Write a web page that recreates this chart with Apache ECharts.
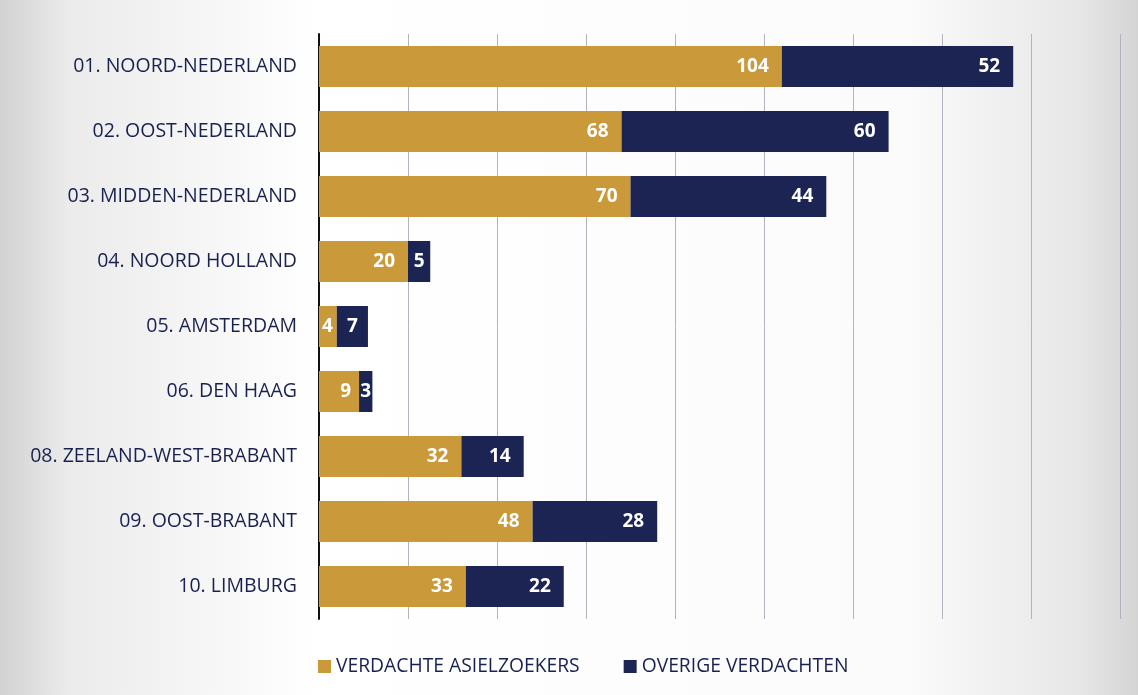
<!DOCTYPE html>
<html><head><meta charset="utf-8">
<script src="https://cdn.jsdelivr.net/npm/echarts@6/dist/echarts.min.js"></script>
<style>html,body{margin:0;padding:0;}#c{width:1138px;height:695px;}</style>
</head><body><div id="c"></div>
<script>
const categories = ["01. NOORD-NEDERLAND","02. OOST-NEDERLAND","03. MIDDEN-NEDERLAND","04. NOORD HOLLAND","05. AMSTERDAM","06. DEN HAAG","08. ZEELAND-WEST-BRABANT","09. OOST-BRABANT","10. LIMBURG"];
const asielzoekers = [104,68,70,20,4,9,32,48,33];
const overige = [52,60,44,5,7,3,14,28,22];
const seriesNames = ["VERDACHTE ASIELZOEKERS","OVERIGE VERDACHTEN"];

const chart = echarts.init(document.getElementById('c'));
const lbl = {show:true, position:'insideRight', color:'#fff', fontWeight:'bold', fontSize:19, fontFamily:'Open Sans', distance:13};
const goldData = asielzoekers.map(v => v < 8 ? {value:v, label:{position:'insideLeft', distance:3}} : (v < 12 ? {value:v, label:{distance:8}} : v));
const navyData = overige.map(v => v < 10 ? {value:v, label:{position:'inside'}} : v);
chart.setOption({
  backgroundColor: {type:'linear', x:0, y:0, x2:1, y2:0, colorStops:[
    {offset:0, color:'#d2d2d2'},{offset:0.06, color:'#ebebeb'},{offset:0.28, color:'#ffffff'},
    {offset:0.8, color:'#fbfbfb'},{offset:0.95, color:'#e6e6e6'},{offset:1, color:'#d4d4d4'}]},
  animation:false,
  grid:{left:319, right:18, top:34, bottom:76, containLabel:false},
  xAxis:{type:'value', min:0, max:180, interval:20,
    axisLabel:{show:false}, axisLine:{show:false}, axisTick:{show:false},
    splitLine:{show:true, lineStyle:{color:'#b0b4bc', width:1}}},
  yAxis:{type:'category', data:categories, inverse:true,
    axisLine:{show:true, lineStyle:{color:'#111', width:2}}, axisTick:{show:false},
    axisLabel:{color:'#19224f', fontSize:19.5, fontFamily:'Open Sans', margin:22}},
  legend:{bottom:14, left:313, itemWidth:13, itemHeight:13, itemGap:44, icon:'rect',
    textStyle:{color:'#19224f', fontSize:19.3, fontFamily:'Open Sans'}},
  series:[
    {name:seriesNames[0], type:'bar', stack:'t', data:goldData, barWidth:41,
      itemStyle:{color:'#c9993a'}, label:lbl},
    {name:seriesNames[1], type:'bar', stack:'t', data:navyData, barWidth:41,
      itemStyle:{color:'#1b2453'}, label:lbl}
  ]
});
</script></body></html>
